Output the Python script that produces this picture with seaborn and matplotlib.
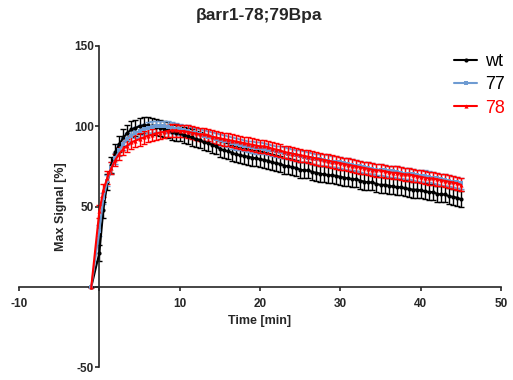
import numpy as np
import pandas as pd
import matplotlib
matplotlib.use("Agg")
import matplotlib.pyplot as plt
import seaborn as sns

# Time points (min): start point, then every 0.5 min up to 45
time = [-1,
        0, 0.5, 1, 1.5, 2, 2.5, 3, 3.5, 4, 4.5,
        5, 5.5, 6, 6.5, 7, 7.5, 8, 8.5, 9, 9.5,
        10, 10.5, 11, 11.5, 12, 12.5, 13, 13.5, 14, 14.5,
        15, 15.5, 16, 16.5, 17, 17.5, 18, 18.5, 19, 19.5,
        20, 20.5, 21, 21.5, 22, 22.5, 23, 23.5, 24, 24.5,
        25, 25.5, 26, 26.5, 27, 27.5, 28, 28.5, 29, 29.5,
        30, 30.5, 31, 31.5, 32, 32.5, 33, 33.5, 34, 34.5,
        35, 35.5, 36, 36.5, 37, 37.5, 38, 38.5, 39, 39.5,
        40, 40.5, 41, 41.5, 42, 42.5, 43, 43.5, 44, 44.5,
        45]

wt = [0,
      21, 48, 65, 76, 84, 89, 93, 96, 98, 99,
      100, 100.5, 100.5, 100, 99.5, 99, 98.5, 97.5, 96.5, 96,
      95.5, 94.5, 94, 93, 92, 91.5, 90, 89.5, 88.5, 87.5,
      86, 85, 84.5, 83.5, 82.5, 82, 81.5, 81, 80.5, 80,
      79.5, 79, 78.5, 77.5, 77, 76.5, 75.5, 75, 74.5, 74,
      73, 72.5, 72.5, 71.5, 71, 70.5, 70, 69.5, 69.5, 69,
      68.5, 68, 67.5, 67, 67, 66, 65.5, 65, 65, 64,
      63.5, 63.5, 63, 62.5, 62, 62, 61.5, 61, 60.5, 60.5,
      60, 59.5, 59, 59, 58, 57.5, 57.5, 56.5, 56, 55.5,
      54.5]

m77 = [0,
       35, 55, 66, 74, 80, 85, 89, 92, 94, 96,
       97, 98, 99, 99.5, 100, 100, 100, 99.5, 99, 98.5,
       98, 97.5, 97, 96, 95.5, 95, 94, 93.5, 93, 92,
       91.5, 91, 90.5, 89.5, 89, 88.5, 88, 87.5, 87, 86.5,
       86.5, 86, 85.5, 85, 84.5, 84, 83.5, 83, 82.5, 82,
       81.5, 81, 80.5, 80, 79.5, 79.5, 79, 78.5, 78, 78,
       77.5, 77, 76.5, 76, 75.5, 75, 74.5, 74, 73.5, 73,
       73, 72.5, 72, 72, 71.5, 71, 70.5, 70.5, 70, 69.5,
       69, 69, 68.5, 68, 67.5, 67, 66.5, 66, 65.5, 65,
       64.5]

m78 = [0,
       47, 60, 68, 74, 79, 83, 86, 88, 90, 91,
       92, 93, 94, 94.5, 95.5, 96, 96.5, 97, 97.5, 97.5,
       97, 97, 96.5, 96, 95.5, 95, 95, 94.5, 93.5, 93,
       92.5, 92, 91.5, 91, 90.5, 90, 89.5, 89, 88.5, 88,
       87.5, 87.5, 87, 86, 85.5, 85, 84, 83.5, 83, 82.5,
       82, 81.5, 81, 80.5, 80, 79.5, 79, 78.5, 78, 77.5,
       77, 76.5, 76, 75.5, 75, 74.5, 74, 73.5, 73, 72.5,
       72.5, 72, 71.5, 71, 71, 70.5, 70, 70, 69.5, 69,
       68.5, 68, 67.5, 67.5, 67, 66.5, 66, 65.5, 65, 64.5,
       63.5]

# approximate SEM per group
sem = {"wt": 5, "77": 3.5, "78": 4}

labels = ["wt", "77", "78"]
colors = {"wt": "#000000", "77": "#6E9BD2", "78": "#FF0000"}
markers = {"wt": "o", "77": "s", "78": "^"}

df = pd.concat([
    pd.DataFrame({"Time": time, "Signal": wt, "group": "wt"}),
    pd.DataFrame({"Time": time, "Signal": m77, "group": "77"}),
    pd.DataFrame({"Time": time, "Signal": m78, "group": "78"}),
])

sns.set_style("ticks")
plt.rcParams["font.family"] = ["Liberation Sans", "DejaVu Sans"]

fig = plt.figure(figsize=(5.13, 3.80), dpi=100)
ax = fig.add_axes([19 / 513, 1 - 367 / 380, 482 / 513, 321 / 380])

for g in labels:
    d = df[df["group"] == g]
    err = [0] + [sem[g]] * (len(d) - 1)
    ax.errorbar(d["Time"], d["Signal"], yerr=err, fmt="none",
                ecolor=colors[g], elinewidth=1, capsize=2.5, capthick=1,
                zorder=2)
    sns.lineplot(data=d, x="Time", y="Signal", ax=ax, color=colors[g],
                 marker=markers[g], markersize=3, markeredgewidth=0,
                 linewidth=1.5, label=g, zorder=3)

ax.set_xlim(-10, 50)
ax.set_ylim(-50, 150)
ax.spines["left"].set_position(("data", 0))
ax.spines["bottom"].set_position(("data", 0))
ax.spines["right"].set_visible(False)
ax.spines["top"].set_visible(False)
for s in ["left", "bottom"]:
    ax.spines[s].set_linewidth(1.2)

ax.set_xticks([-10, 0, 10, 20, 30, 40, 50])
ax.set_xticklabels(["-10", "", "10", "20", "30", "40", "50"])
ax.set_yticks([-50, 0, 50, 100, 150])
ax.set_yticklabels(["-50", "", "50", "100", "150"])
ax.tick_params(axis="both", direction="out", length=3, width=1.2,
               labelsize=8.5)
ax.tick_params(axis="x", pad=5)
ax.tick_params(axis="y", pad=1)
for t in ax.get_xticklabels() + ax.get_yticklabels():
    t.set_fontweight("bold")

ax.set_xlabel("Time [min]", fontsize=9, fontweight="bold")
ax.set_ylabel("Max Signal [%]", fontsize=9, fontweight="bold")
ax.xaxis.set_label_coords(0.5, 0.162)
ax.yaxis.set_label_coords(0.10, 0.5)

fig.suptitle("\u03b2arr1-78;79Bpa", fontsize=12.5, fontweight="bold",
             x=259 / 513, y=1 - 8 / 380)

leg = ax.legend(loc="upper left", bbox_to_anchor=(454 / 513, 1 - 53 / 380),
                bbox_transform=fig.transFigure, frameon=False,
                fontsize=13, handlelength=1.3, handletextpad=0.4,
                labelspacing=0.35, borderaxespad=0, borderpad=0)
for txt, g in zip(leg.get_texts(), labels):
    txt.set_color("#FF0000" if g == "78" else "#000000")

plt.savefig("out.png", dpi=100)
